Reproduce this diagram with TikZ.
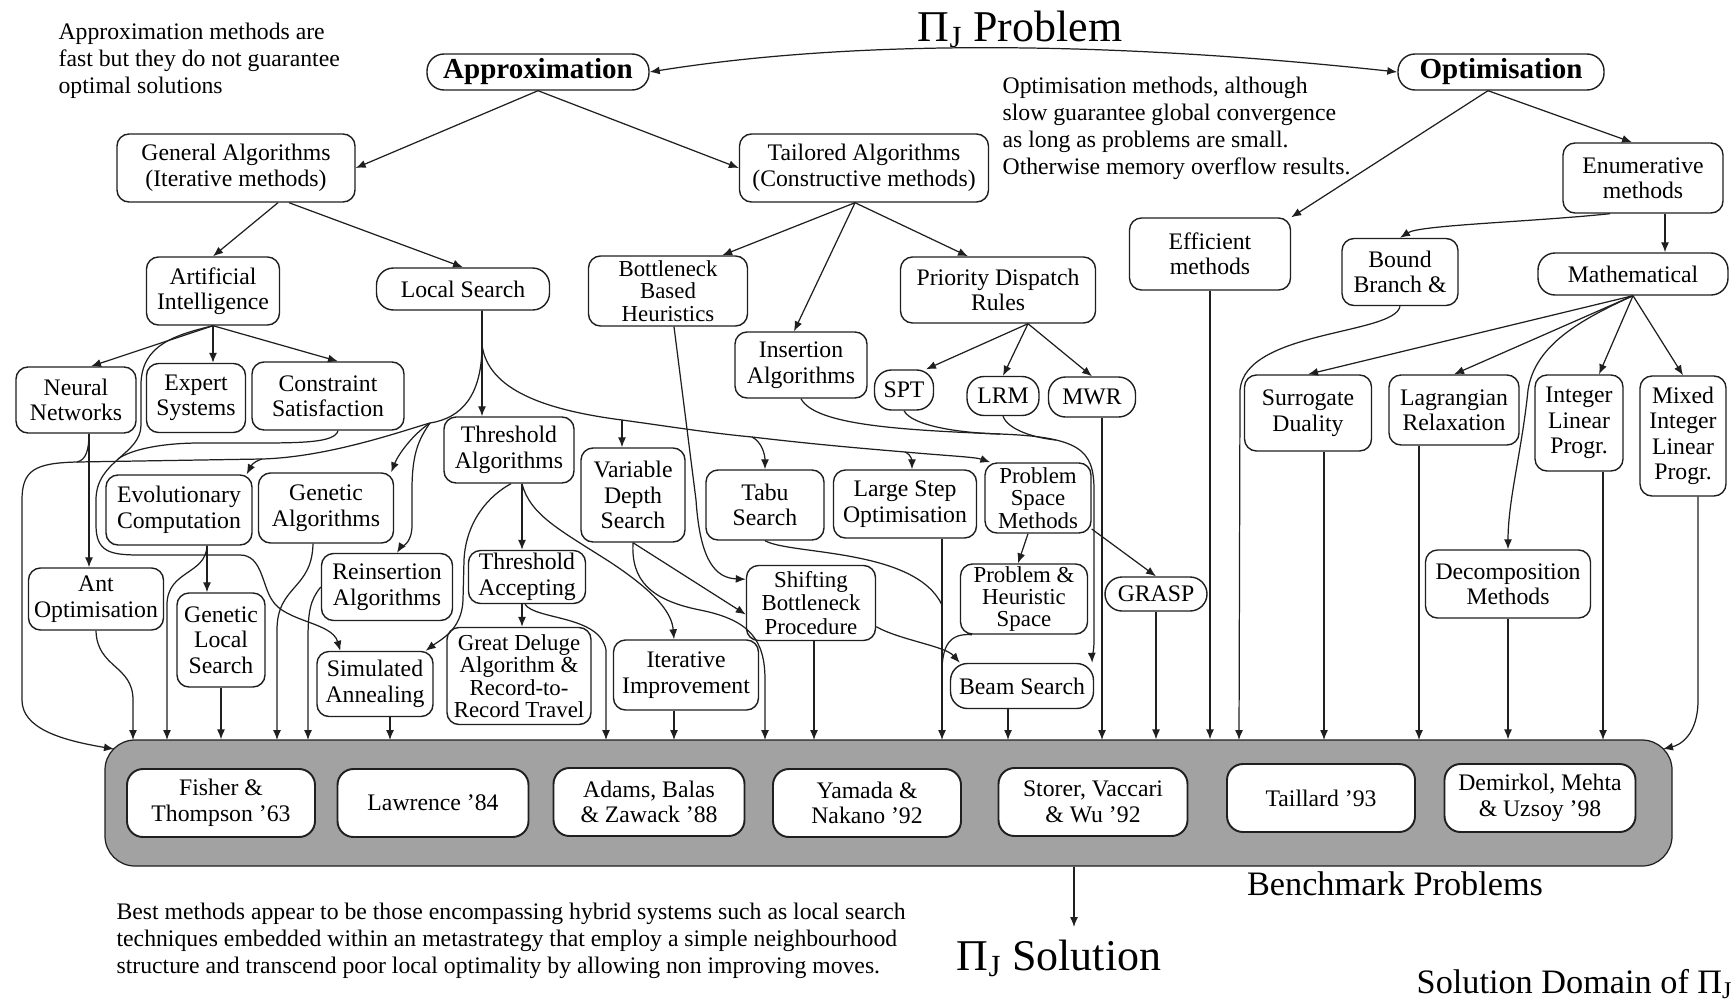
\documentclass[tikz,border=0pt]{standalone}
\usepackage{fontspec}
\setmainfont{Liberation Serif}
\usetikzlibrary{arrows.meta}
\definecolor{InkGray}{HTML}{1F1F1F}
\definecolor{BandGray}{HTML}{A2A2A2}
\newlength{\unitlen}
\setlength{\unitlen}{0.02cm}

\begin{document}
\begin{tikzpicture}[x=0.02cm, y=-0.02cm, line width=0.7pt,
    >={Latex[length=0.2cm, width=0.16cm]},
    box/.style={draw=InkGray, line width=0.8pt, rounded corners=12\unitlen,
      align=center, inner sep=0pt, font=\fontsize{13.5}{14.5}\selectfont},
    packed/.style={font=\fontsize{13}{#1}\selectfont}, packed/.default=12.8,
    sz/.style 2 args={minimum width=#1\unitlen, minimum height=#2\unitlen},
    pill/.style={box, rounded corners=17\unitlen},
    head/.style={pill, font=\fontsize{16.5}{18}\selectfont\bfseries},
    paper/.style={box, fill=white, line width=1.1pt, rounded corners=16\unitlen},
    note/.style={align=left, inner sep=0pt, font=\fontsize{13.5}{15.4}\selectfont},
    caption/.style={inner sep=0pt, font=\fontsize{19.5}{22}\selectfont},
    big/.style={inner sep=0pt, font=\fontsize{25}{30}\selectfont},
    link/.style={->, draw=InkGray},
    merge/.style={draw=InkGray}]
    \useasboundingbox (0,0) rectangle (1736,1001);

    % benchmark band
    \node[draw=InkGray, fill=BandGray, rounded corners=30\unitlen, sz={1567}{126}, inner sep=0pt] (bench) at (888.5,803) {};
    \node[paper, sz={188}{68}] (fisher) at (221,803) {Fisher \&\\Thompson '63};
    \node[paper, sz={191}{68}] (lawrence) at (433,803) {Lawrence '84};
    \node[paper, sz={191}{68}] (adams) at (649,802) {Adams, Balas\\\& Zawack '88};
    \node[paper, sz={188}{68}] (yamada) at (867,803) {Yamada \&\\Nakano '92};
    \node[paper, sz={189}{68}] (storer) at (1093,802) {Storer, Vaccari\\\& Wu '92};
    \node[paper, sz={188}{68}] (taillard) at (1321,798) {Taillard '93};
    \node[paper, sz={191}{68}] (demirkol) at (1540,798) {Demirkol, Mehta\\\& Uzsoy '98};

    % titles and notes
    \node[big, anchor=base] (probtitle) at (1020,41) {Π\textsubscript{J} Problem};
    \node[note, anchor=north west] (approxnote) at (58,22) {Approximation methods are\\fast but they do not guarantee\\optimal solutions};
    \node[note, anchor=north west] (optnote) at (1002,76) {Optimisation methods, although\\slow guarantee global convergence\\as long as problems are small.\\Otherwise memory overflow results.};
    \node[caption, anchor=base] (benchtitle) at (1395,895) {Benchmark Problems};
    \node[big, anchor=base] (solution) at (1059,970) {Π\textsubscript{J} Solution};
    \node[caption, anchor=base east] (domain) at (1733,993) {Solution Domain of Π\textsubscript{J}};
    \node[note, anchor=north west] (bestnote) at (116,902) {Best methods appear to be those encompassing hybrid systems such as local search\\techniques embedded within an metastrategy that employ a simple neighbourhood\\structure and transcend poor local optimality by allowing non improving moves.};

    % approximation side
    \node[head, sz={222}{36}] (approx) at (538,72) {Approximation};
    \node[box, sz={238}{68}] (general) at (236,168) {General Algorithms\\(Iterative methods)};
    \node[box, sz={249}{68}] (tailored) at (864,168) {Tailored Algorithms\\(Constructive methods)};
    \node[box, sz={133}{68}] (ai) at (213,291) {Artificial\\Intelligence};
    \node[pill, sz={173}{42}] (local) at (463,289) {Local Search};
    \node[box, packed, sz={159}{70}] (bbh) at (668,291) {Bottleneck\\Based\\Heuristics};
    \node[box, sz={195}{66}] (pdr) at (998,290) {Priority Dispatch\\Rules};
    \node[box, sz={132}{66}] (insert) at (801,365) {Insertion\\Algorithms};
    \node[pill, sz={59}{40}] (spt) at (904,390) {SPT};
    \node[pill, sz={72}{39}] (lrm) at (1003,396) {LRM};
    \node[pill, sz={87}{40}] (mwr) at (1092,397) {MWR};
    \node[box, sz={120}{66}] (neural) at (76,400) {Neural\\Networks};
    \node[box, sz={99}{69}] (expert) at (196,398) {Expert\\Systems};
    \node[box, sz={152}{68}] (constr) at (328,396) {Constraint\\Satisfaction};
    \node[box, sz={130}{66}] (thralg) at (509,450) {Threshold\\Algorithms};
    \node[box, sz={104}{94}] (vds) at (633,495) {Variable\\Depth\\Search};
    \node[box, sz={118}{70}] (tabu) at (765,505) {Tabu\\Search};
    \node[box, sz={143}{68}] (large) at (905,504) {Large Step\\Optimisation};
    \node[box, packed, sz={106}{70}] (psm) at (1038,498) {Problem\\Space\\Methods};
    \node[box, sz={146}{70}] (evol) at (179,510) {Evolutionary\\Computation};
    \node[box, sz={135}{70}] (genalg) at (326,508) {Genetic\\Algorithms};
    \node[box, sz={135}{62}] (ant) at (96,599) {Ant\\Optimisation};
    \node[box, sz={88}{94}] (gls) at (221,640) {Genetic\\Local\\Search};
    \node[box, sz={131}{67}] (reins) at (387,587) {Reinsertion\\Algorithms};
    \node[box, sz={117}{53}] (thracc) at (527,577) {Threshold\\Accepting};
    \node[box, packed=13.5, sz={129}{75}] (sbp) at (811,603) {Shifting\\Bottleneck\\Procedure};
    \node[box, packed, sz={127}{70}] (phs) at (1024,599) {Problem \&\\Heuristic\\Space};
    \node[pill, sz={102}{34}] (grasp) at (1156,594) {GRASP};
    \node[box, sz={116}{65}] (simann) at (375,684) {Simulated\\Annealing};
    \node[box, packed, sz={144}{97}] (deluge) at (519,676) {Great Deluge\\Algorithm \&\\Record-to-\\Record Travel};
    \node[box, sz={145}{70}] (iter) at (686,675) {Iterative\\Improvement};
    \node[pill, sz={143}{45}] (beam) at (1022,686) {Beam Search};

    % optimisation side
    \node[head, sz={206}{36}] (optim) at (1501,72) {Optimisation};
    \node[box, sz={160}{70}] (enum) at (1643,178) {Enumerative\\methods};
    \node[box, sz={161}{72}] (effic) at (1210,254) {Efficient\\methods};
    \node[box, sz={116}{67}] (bound) at (1400,272) {Bound\\Branch \&};
    \node[pill, sz={190}{42}] (math) at (1633,274) {Mathematical};
    \node[box, sz={127}{76}] (surr) at (1308,413) {Surrogate\\Duality};
    \node[box, sz={130}{70}] (lagr) at (1454,410) {Lagrangian\\Relaxation};
    \node[box, sz={88}{96}] (intlin) at (1579,423) {Integer\\Linear\\Progr.};
    \node[box, sz={86}{120}] (mixed) at (1683,436) {Mixed\\Integer\\Linear\\Progr.};
    \node[box, sz={165}{68}] (decomp) at (1508,584) {Decomposition\\Methods};

    % junctions and entry points
    \coordinate (lsl) at (430,423);
    \coordinate (jec) at (262,459);
    \coordinate (jnn) at (77,462);
    \coordinate (jai) at (118,459);
    \coordinate (lsr1) at (622,420);
    \coordinate (lsr2) at (752,437);
    \coordinate (lsr3) at (905,452);
    \coordinate (mspt) at (1000,434);
    \coordinate (mlrm) at (1056,440);
    \coordinate (mtabu) at (942,605);
    \coordinate (mphs) at (942,672);
    \coordinate (mixdrop) at (1698,700);
    \coordinate (solin) at (1074,927);
    \coordinate (in-left) at (114,749);
    \coordinate (in-right) at (1663,749);
    \coordinate (in-ant) at (133,740);
    \coordinate (in-evol) at (167,740);
    \coordinate (in-genalg) at (277,740);
    \coordinate (in-reins) at (308,740);
    \coordinate (in-simann) at (390,740);
    \coordinate (in-thracc) at (606,740);
    \coordinate (in-iter) at (674,740);
    \coordinate (in-vds) at (765,740);
    \coordinate (in-sbp) at (814,740);
    \coordinate (in-lso) at (942,740);
    \coordinate (in-beam) at (1008,740);
    \coordinate (in-mwr) at (1102,740);
    \coordinate (in-bound) at (1239,740);
    \coordinate (in-surr) at (1324,740);
    \coordinate (in-lagr) at (1419,740);
    \coordinate (in-intlin) at (1603,740);

    % top level
    \draw[link, <->] (approx.east) .. controls (850,40) and (1100,40) .. (optim.west);
    \draw[link] (approx.south) -- (general.east);
    \draw[link] (approx.south) -- (tailored.west);
    \draw[link] ([xshift=-13\unitlen]optim.south) -- (effic.north east);
    \draw[link] ([xshift=-13\unitlen]optim.south) -- ([xshift=-11\unitlen]enum.north);
    \draw[link] ([xshift=42\unitlen]general.south) -- (ai.north);
    \draw[link] ([xshift=53\unitlen]general.south) -- (local.north);
    \draw[link] ([xshift=-9\unitlen]tailored.south) -- ([xshift=-26\unitlen]bbh.north east);
    \draw[link] ([xshift=-9\unitlen]tailored.south) -- ([xshift=-7\unitlen]insert.north);
    \draw[link] ([xshift=-9\unitlen]tailored.south) -- ([xshift=-30\unitlen]pdr.north);

    % artificial intelligence
    \draw[link] (ai.south) -- ([xshift=15\unitlen]neural.north);
    \draw[link] (ai.south) -- (ai.south |- expert.north);
    \draw[link] (ai.south) -- ([xshift=10\unitlen]constr.north);
    \draw[link] (ai.south) .. controls (175,335) and (141,345) .. (141,385) -- (141,425)
        .. controls (141,455) and (96,460) .. (96,500) -- (96,525)
        .. controls (96,552) and (110,555) .. (140,555) -- (240,555)
        .. controls (262,555) and (262,585) .. (272,600)
        .. controls (285,622) and (332,622) .. ([xshift=24\unitlen]simann.north west);
    \draw[merge] ([xshift=10\unitlen]constr.south) .. controls (335,443) and (300,443) .. (250,443) -- (200,443)
        .. controls (160,443) and (130,450) .. (jai);
    \draw[link] ([xshift=13\unitlen]neural.south) -- ([xshift=-7\unitlen]ant.north);
    \draw[merge] ([xshift=13\unitlen]neural.south) .. controls (89,450) and (86,460) .. (jnn);

    % local search
    \draw[link] ([xshift=19\unitlen]local.south) -- ([xshift=-27\unitlen]thralg.north);
    \draw[link] ([xshift=19\unitlen]local.south) -- (482,345) .. controls (482,395) and (462,418) .. (lsl)
        .. controls (405,430) and (330,457) .. (jec) -- (jnn)
        .. controls (35,463) and (22,470) .. (22,500) -- (22,700)
        .. controls (22,728) and (60,740) .. (in-left);
    \draw[link] (jec) .. controls (252,462) and (250,468) .. ([xshift=-6\unitlen]evol.north east);
    \draw[link] (lsl) .. controls (412,435) and (398,455) .. ([xshift=-3\unitlen]genalg.north east);
    \draw[link] (lsl) .. controls (418,440) and (412,455) .. (412,490) -- (412,525)
        .. controls (412,545) and (400,548) .. ([xshift=10\unitlen]reins.north);
    \draw[link] ([xshift=19\unitlen]local.south) -- (482,345) .. controls (488,390) and (545,410) .. (lsr1)
        .. controls (680,428) and (710,433) .. (lsr2)
        .. controls (820,445) and (870,449) .. (lsr3)
        .. controls (950,456) and (975,457) .. ([xshift=6\unitlen]psm.north west);
    \draw[link] (lsr1) -- (lsr1 |- vds.north);
    \draw[link] (lsr2) .. controls (762,442) and (765,455) .. (tabu.north);
    \draw[link] (lsr3) .. controls (912,455) and (912,462) .. ([xshift=7\unitlen]large.north);

    % threshold algorithms
    \draw[link] ([xshift=13\unitlen]thralg.south) -- ([xshift=-5\unitlen]thracc.north);
    \draw[link] ([xshift=2\unitlen]thralg.south) .. controls (490,495) and (466,520) .. (464,560) -- (463,600)
        .. controls (462,630) and (440,640) .. ([xshift=-8\unitlen]simann.north east);
    \draw[link] ([xshift=13\unitlen]thralg.south) .. controls (530,515) and (560,530) .. (610,562)
        .. controls (660,595) and (672,615) .. ([xshift=-12\unitlen]iter.north);
    \draw[link] ([xshift=-5\unitlen]thracc.south) -- ([xshift=3\unitlen]deluge.north);
    \draw[link] ([xshift=-2\unitlen]thracc.south) .. controls (535,620) and (600,615) .. (606,650) -- (in-thracc);

    % tailored algorithms
    \draw[link] ([xshift=6\unitlen]bbh.south) -- (696,500) .. controls (700,560) and (715,578) .. (sbp.160);
    \draw[link] (vds.south) -- (sbp.190);
    \draw[link] (vds.south) .. controls (631,580) and (650,600) .. (700,610)
        .. controls (750,620) and (765,640) .. (765,680) -- (in-vds);
    \draw[link] ([xshift=30\unitlen]pdr.south) -- ([xshift=22\unitlen]spt.north);
    \draw[link] ([xshift=30\unitlen]pdr.south) -- (lrm.north);
    \draw[link] ([xshift=30\unitlen]pdr.south) -- (mwr.north);
    \draw[link] (insert.south) .. controls (815,425) and (900,430) .. (mspt)
        .. controls (1080,437) and (1094,450) .. (1094,490) -- (1094,640)
        .. controls (1094,652) and (1092,658) .. ([xshift=-2\unitlen]beam.north east);
    \draw[merge] (spt.south) .. controls (912,426) and (960,433) .. (mspt);
    \draw[merge] (lrm.south) .. controls (1008,430) and (1035,438) .. (mlrm);
    \draw[merge] (tabu.south) .. controls (790,555) and (915,548) .. (mtabu);
    \draw[merge] ([xshift=12\unitlen]phs.south west) .. controls (950,633) and (942,645) .. (mphs);
    \draw[link] ([xshift=-10\unitlen]psm.south) -- ([xshift=-6\unitlen]phs.north);
    \draw[link] (psm.-30) -- (grasp.north);
    \draw[link] (sbp.-20) .. controls (900,640) and (945,646) .. ([xshift=10\unitlen]beam.north west);

    % optimisation branch
    \draw[link] ([xshift=-33\unitlen]enum.south) .. controls (1530,222) and (1420,225) .. (bound.north);
    \draw[link] ([xshift=22\unitlen]enum.south) -- ([xshift=32\unitlen]math.north);
    \draw[link] (math.south) -- (surr.north);
    \draw[link] (math.south) -- (lagr.north);
    \draw[link] (math.south) -- ([xshift=20\unitlen]intlin.north);
    \draw[link] (math.south) -- (mixed.north);
    \draw[link] (math.south) .. controls (1580,320) and (1535,345) .. (1528,390)
        .. controls (1522,450) and (1508,500) .. (decomp.north);

    % into the benchmark band
    \draw[link] (ant.south) .. controls (97,668) and (133,665) .. (133,700) -- (in-ant);
    \draw[link] ([xshift=28\unitlen]evol.south) -- ([xshift=-14\unitlen]gls.north);
    \draw[link] ([xshift=28\unitlen]evol.south) .. controls (206,575) and (167,570) .. (167,605) -- (in-evol);
    \draw[link] (gls.south) -- (gls.south |- bench.north);
    \draw[link] ([xshift=-13\unitlen]genalg.south) .. controls (312,590) and (277,585) .. (277,630) -- (in-genalg);
    \draw[link] (reins.west) .. controls (310,600) and (308,612) .. (308,640) -- (in-reins);
    \draw[link] (simann.south -| in-simann) -- (in-simann);
    \draw[link] (iter.south -| in-iter) -- (in-iter);
    \draw[link] (sbp.south -| in-sbp) -- (in-sbp);
    \draw[link] (large.south -| in-lso) -- (in-lso);
    \draw[link] (beam.south -| in-beam) -- (in-beam);
    \draw[link] (mwr.south -| in-mwr) -- (in-mwr);
    \draw[link] (grasp.south) -- (grasp.south |- bench.north);
    \draw[link] (effic.south) -- (effic.south |- bench.north);
    \draw[link] (bound.south) .. controls (1395,335) and (1245,330) .. (1240,390) -- (in-bound);
    \draw[link] (surr.south -| in-surr) -- (in-surr);
    \draw[link] (lagr.south -| in-lagr) -- (in-lagr);
    \draw[link] (decomp.south) -- (decomp.south |- bench.north);
    \draw[link] (intlin.south -| in-intlin) -- (in-intlin);
    \draw[link] (mixed.south -| mixdrop) -- (mixdrop) .. controls (1698,735) and (1680,745) .. (in-right);

    % to the solution
    \draw[link] (solin |- bench.south) -- (solin);
\end{tikzpicture}
\end{document}
